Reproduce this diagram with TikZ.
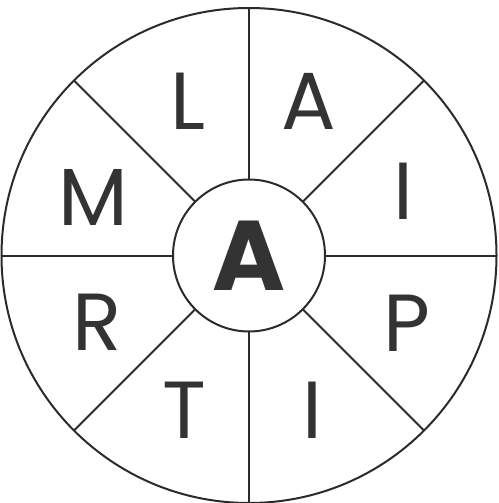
\documentclass[tikz,border=0pt]{standalone}
\usepackage{fontspec}
\setmainfont{Poppins}
\usetikzlibrary{positioning}
\definecolor{ink}{HTML}{2B2B2B}
\definecolor{letter}{HTML}{333333}

\begin{document}
\begin{tikzpicture}[x=1pt, y=-1pt,
  wheel/.style={draw=ink, line width=2pt, circle, inner sep=0pt, outer sep=0pt},
  tile/.style={text=letter, inner sep=0pt, font=\fontsize{81}{81}\selectfont}]
\useasboundingbox (0,0) rectangle (498,503);
\node[wheel, minimum size=495pt] (rim) at (249,255.5) {};
\node[wheel, minimum size=152pt, fill=white, text=letter,
  font=\fontsize{99}{99}\selectfont\bfseries] (hub) at (249,255.5) {A};
% spokes from the hub out to the rim
\foreach \a in {0,45,...,315}
  \draw[draw=ink, line width=2pt] (hub.\a) -- (rim.\a);
% outer letters, clockwise from the top
\node[tile] (l1) at (188,101) {L};
\node[tile] (l2) at (308.5,101) {A};
\node[tile] (l3) at (403,191.5) {I};
\node[tile] (l4) at (407,323) {P};
\node[tile] (l5) at (312,410) {I};
\node[tile] (l6) at (184,410) {T};
\node[tile] (l7) at (97,322) {R};
\node[tile] (l8) at (93,197) {M};
\end{tikzpicture}
\end{document}
